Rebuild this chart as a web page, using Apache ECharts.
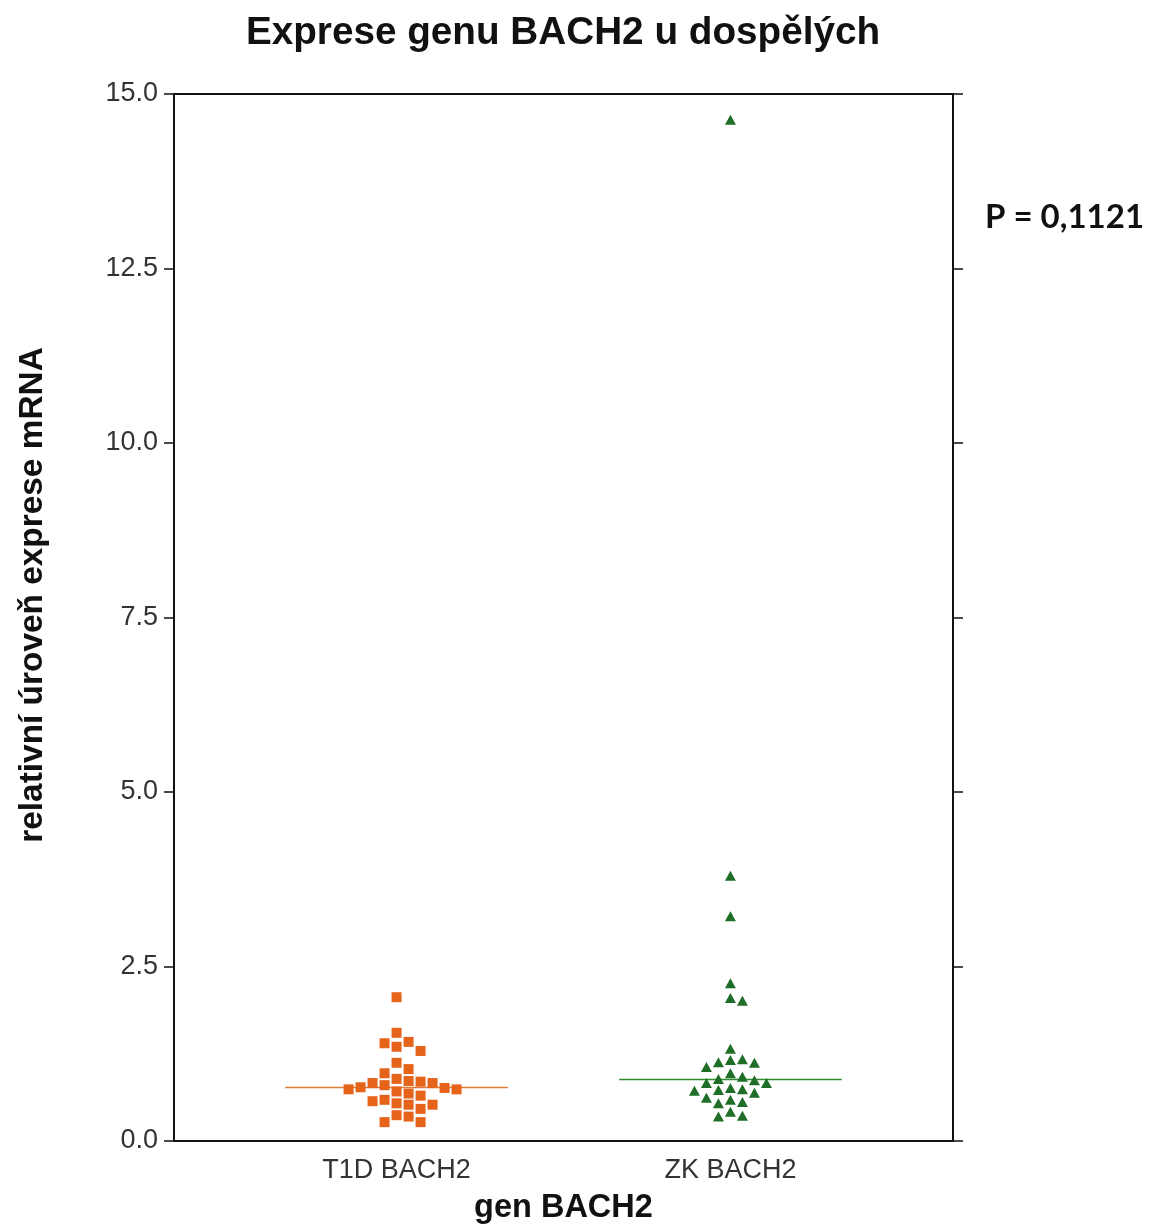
<!DOCTYPE html>
<html>
<head>
<meta charset="utf-8">
<title>Exprese genu BACH2 u dospělých</title>
<script src="https://cdn.jsdelivr.net/npm/echarts@6/dist/echarts.min.js"></script>
<style>
  html, body { margin: 0; padding: 0; background: #fff; }
  #chart { width: 1164px; height: 1227px; }
</style>
</head>
<body>
<div id="chart"></div>
<script>
// Group labels and their positions on the horizontal scale (0..7)
const categories = ['T1D BACH2', 'ZK BACH2'];
const groupPositions = [2, 5];

// Relative mRNA expression of BACH2, one value per subject
const t1dValues = [2.06, 1.55, 1.42, 1.40, 1.35, 1.29, 1.12, 1.03, 0.97, 0.89, 0.86, 0.85,
  0.83, 0.83, 0.80, 0.77, 0.76, 0.74, 0.74, 0.71, 0.68, 0.65, 0.59, 0.57, 0.54, 0.52,
  0.52, 0.46, 0.37, 0.35, 0.27, 0.27];
const zkValues = [14.63, 3.80, 3.22, 2.26, 2.05, 2.01, 1.32, 1.17, 1.16, 1.13, 1.12, 1.06,
  0.97, 0.92, 0.89, 0.87, 0.83, 0.83, 0.76, 0.74, 0.73, 0.72, 0.69, 0.62, 0.59, 0.56,
  0.54, 0.42, 0.36, 0.35];

const yTicks = { min: 0, max: 15, interval: 2.5 };
const titleText = 'Exprese genu BACH2 u dospělých';
const yTitleText = 'relativní úroveň exprese mRNA';
const pValueText = 'P = 0,1121';

// Plot frame in pixels
const grid = { left: 174, right: 211, top: 94, bottom: 86, outerBoundsMode: 'none', containLabel: false };
const W = 1164, H = 1227;
const pxPerX = (W - grid.left - grid.right) / 7;
const pxPerY = (H - grid.top - grid.bottom) / (yTicks.max - yTicks.min);

function median(arr) {
  const s = arr.slice().sort((a, b) => a - b);
  const n = s.length;
  return n % 2 ? s[(n - 1) / 2] : (s[n / 2 - 1] + s[n / 2]) / 2;
}

// Column-based swarm: each point goes to the nearest free column
function swarm(values, center) {
  const colW = 12;      // px between columns
  const minGap = 10.5;  // px vertical clearance within a column
  const cols = {};
  const sorted = values.slice().sort((a, b) => b - a);
  return sorted.map(v => {
    const y = v * pxPerY;
    for (let k = 0; k < 40; k++) {
      const off = k === 0 ? 0 : (k % 2 ? (k + 1) / 2 : -k / 2);
      const list = cols[off] || (cols[off] = []);
      if (list.every(yy => Math.abs(yy - y) >= minGap)) {
        list.push(y);
        return [center + off * colW / pxPerX, v];
      }
    }
    return [center, v];
  });
}

const t1dPoints = swarm(t1dValues, groupPositions[0]);
const zkPoints = swarm(zkValues, groupPositions[1]);
const t1dMedian = median(t1dValues);
const zkMedian = median(zkValues);

const orange = '#E5641A';
const green = '#1F6E27';
const axisLine = { show: true, onZero: false, lineStyle: { color: '#111', width: 2 } };
const tickStyle = { show: true, inside: false, length: 10, lineStyle: { color: '#111', width: 1.5 } };

const chart = echarts.init(document.getElementById('chart'));
chart.setOption({
  backgroundColor: '#fff',
  animation: false,
  grid: grid,
  xAxis: [{
    type: 'value', min: 0, max: 7, interval: 1, position: 'bottom',
    axisLine: axisLine, axisTick: { show: false }, splitLine: { show: false },
    axisLabel: {
      margin: 16, fontSize: 27, color: '#333', fontFamily: 'Liberation Sans',
      formatter: v => { const i = groupPositions.indexOf(v); return i >= 0 ? categories[i] : ''; }
    },
    name: 'gen BACH2', nameLocation: 'middle', nameGap: 51,
    nameTextStyle: { fontSize: 32.5, fontWeight: 'bold', color: '#111', fontFamily: 'Liberation Sans' }
  }, {
    type: 'value', min: 0, max: 7, position: 'top',
    axisLine: axisLine, axisTick: { show: false }, axisLabel: { show: false }, splitLine: { show: false }
  }],
  yAxis: [{
    type: 'value', min: yTicks.min, max: yTicks.max, interval: yTicks.interval, position: 'left',
    axisLine: axisLine, axisTick: tickStyle, splitLine: { show: false },
    axisLabel: { margin: 16, fontSize: 27, color: '#333', fontFamily: 'Liberation Sans', formatter: v => v.toFixed(1) }
  }, {
    type: 'value', min: yTicks.min, max: yTicks.max, interval: yTicks.interval, position: 'right',
    axisLine: axisLine, axisTick: tickStyle, splitLine: { show: false }, axisLabel: { show: false }
  }],
  series: [{
    type: 'scatter', name: categories[0], data: t1dPoints,
    symbol: 'rect', symbolSize: 10, itemStyle: { color: orange, opacity: 1 }, z: 3
  }, {
    type: 'scatter', name: categories[1], data: zkPoints,
    symbol: 'triangle', symbolSize: [11, 10], itemStyle: { color: green, opacity: 1 }, z: 3
  }, {
    type: 'line', data: [[groupPositions[0] - 1, t1dMedian], [groupPositions[0] + 1, t1dMedian]],
    symbol: 'none', lineStyle: { color: '#E07A34', width: 1.5 }, z: 2
  }, {
    type: 'line', data: [[groupPositions[1] - 1, zkMedian], [groupPositions[1] + 1, zkMedian]],
    symbol: 'none', lineStyle: { color: '#2E8B2E', width: 1.5 }, z: 2
  }],
  graphic: [{
    type: 'text', x: 563, y: 14,
    style: {
      text: titleText, align: 'center', verticalAlign: 'top',
      fontSize: 38.7, fontWeight: 'bold', fill: '#111', fontFamily: 'Liberation Sans'
    }
  }, {
    type: 'text', x: 33, y: 595, rotation: Math.PI / 2,
    style: {
      text: yTitleText, align: 'center', verticalAlign: 'middle',
      fontSize: 33.4, fontWeight: 'bold', fill: '#111', fontFamily: 'Liberation Sans'
    }
  }, {
    type: 'text', x: 985, y: 217,
    style: {
      text: pValueText, align: 'left', verticalAlign: 'middle',
      fontSize: 33, fontWeight: 'bold', fill: '#111', fontFamily: 'Lato'
    }
  }]
});
</script>
</body>
</html>
